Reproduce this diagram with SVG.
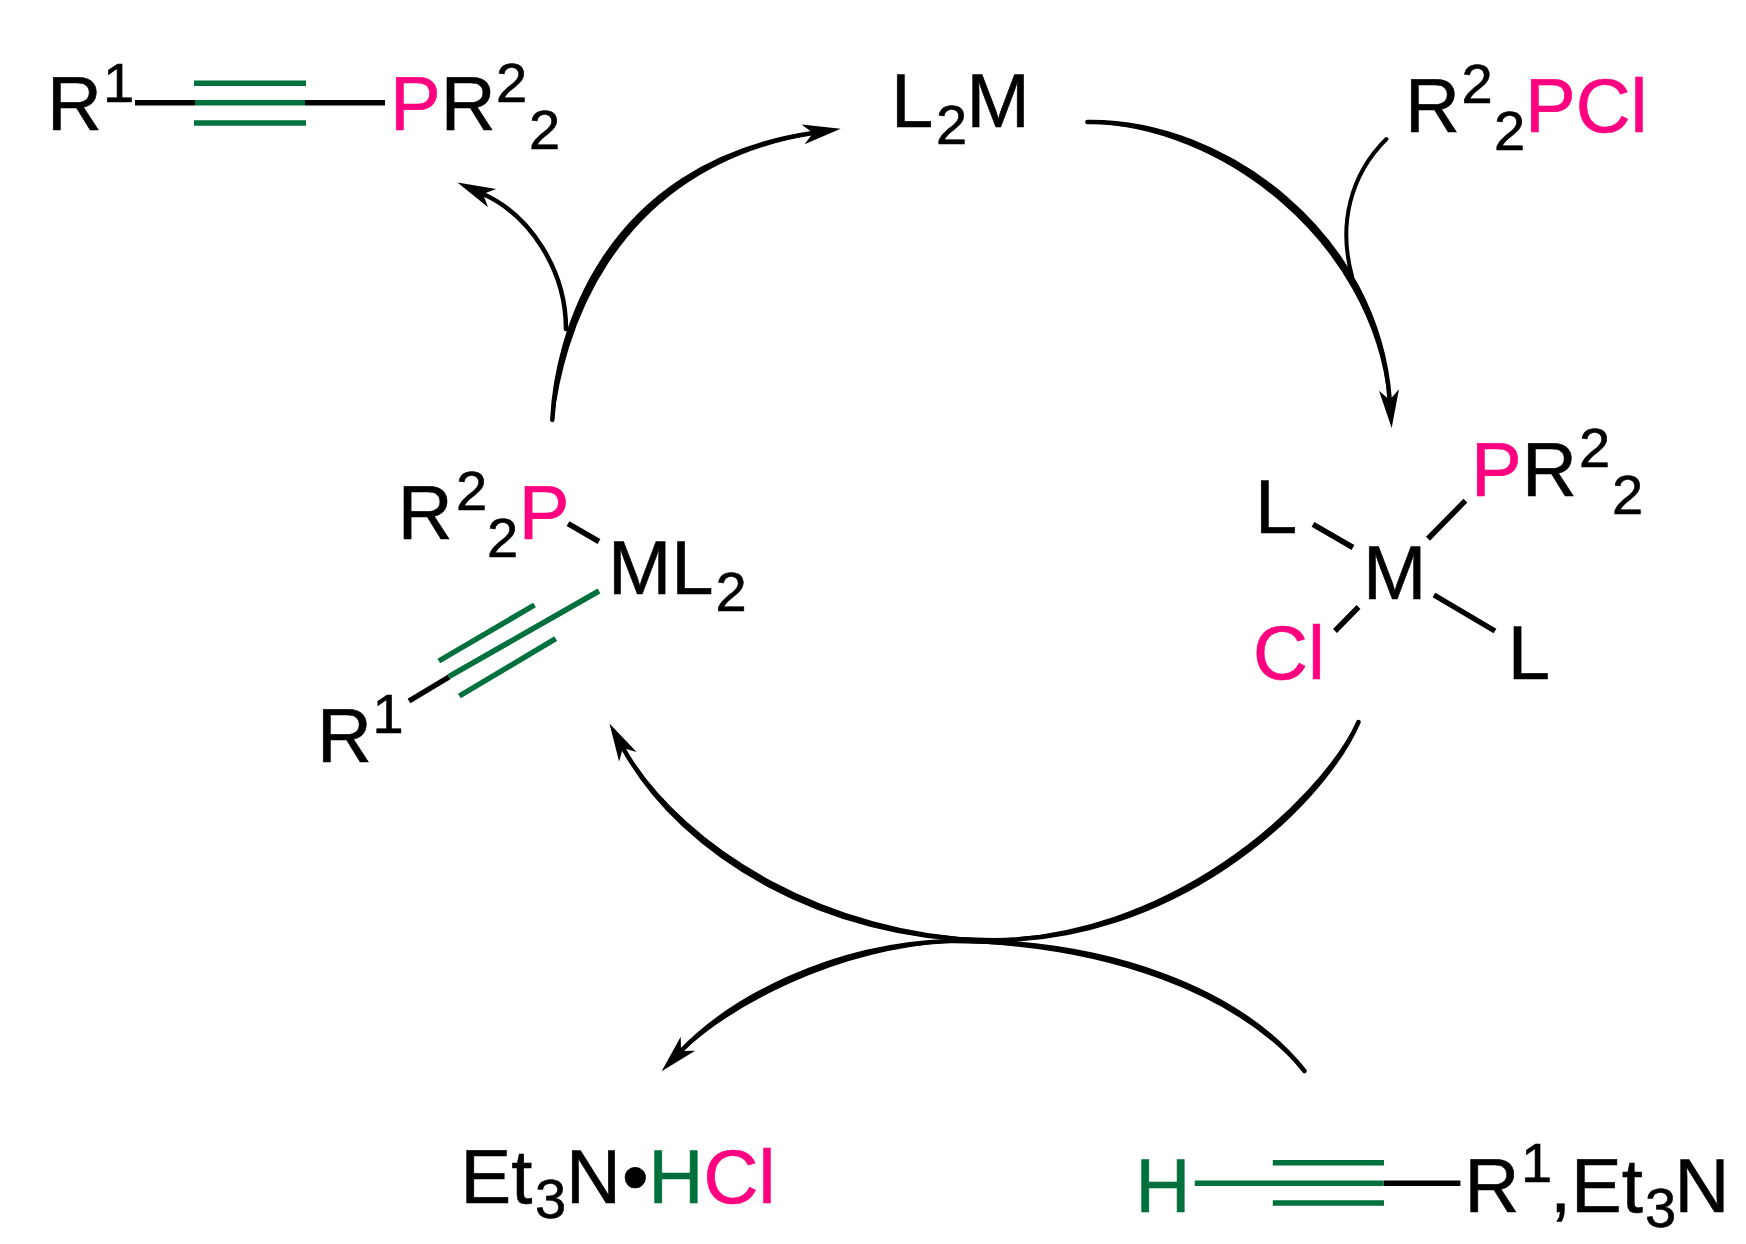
<svg xmlns="http://www.w3.org/2000/svg" width="1746" height="1244" viewBox="0 0 1746 1244">
<style>
text{font-family:"Liberation Sans",Arial,sans-serif;font-size:76px;fill:#000;stroke:#000;stroke-width:.6}
.s{font-size:56px}
.p{fill:#ff0080;stroke:#ff0080}
.g{fill:#00703c;stroke:#00703c}
.b{stroke:#000;stroke-width:5.5;fill:none}
.gb{stroke:#00703c;stroke-width:5.5;fill:none}
.k{stroke:#000;stroke-width:5.5;fill:none}
.c{stroke:#000;stroke-width:4.5;fill:none;stroke-linecap:round}
.l{fill:#000;stroke:#000;stroke-width:3;stroke-linejoin:round}
.h{marker-end:url(#ah)}
</style>
<defs>
<marker id="ah" markerUnits="userSpaceOnUse" markerWidth="44" markerHeight="24" refX="10" refY="12" orient="auto" viewBox="0 0 44 24" overflow="visible"><path d="M0,2L38,12L0,22L10,12Z" fill="#000"/></marker>
</defs>
<rect width="1746" height="1244" fill="#fff"/>
<g id="connectors">
<path class="c h" d="M1087.4,122C1225,120 1378,235 1389.7,400"/>
<path class="l" d="M1087.4,122C1225,120 1378,235 1389.7,400C1373,239 1221,124 1087.4,122Z"/>
<path class="c" style="stroke-width:4" d="M1386.4,139C1350,175 1338,225 1352,276"/>
<path class="c h" d="M1358.5,722C1320,810 1170,945 984,940C830,938 685,860 623,748"/>
<path class="l" d="M1358.5,722C1320,810 1170,945 984,940C1168,941 1316,807 1358.5,722Z"/>
<path class="l" d="M984,940C830,938 685,860 623,748C688,856 832,934 984,940Z"/>
<path class="c h" d="M1304.5,1071C1240,990 1110,940 950,941C830,945 730,1000 681,1051"/>
<path class="l" d="M1304.5,1071C1240,990 1110,940 950,941C1110,944 1237,993 1304.5,1071Z"/>
<path class="l" d="M950,941C830,945 730,1000 681,1051C732,1004 832,949 950,941Z"/>
<path class="c h" d="M552.3,420C556,340 600,165 813,133"/>
<path class="l" d="M552.3,420C556,340 600,165 813,133C604,170 561,343 552.3,420Z"/>
<path class="c h" d="M566,329C566,270 530,215 483,194"/>
</g>
<g id="alkynylphosphine">
<path class="k" d="M135,102.7H195M305,102.7H385"/>
<path class="gb" d="M194,83.3H306M195,102.7H305M194,123H306"/>
<text x="47" y="130">R</text><text class="s" x="103" y="102">1</text>
<text class="p" x="390" y="130">P</text><text x="440.7" y="130">R</text><text class="s" x="496" y="102">2</text><text class="s" x="529" y="148.8">2</text>
</g>
<g id="catalyst">
<text x="891" y="127">L</text><text class="s" x="936" y="143.6">2</text><text x="966.5" y="127">M</text>
</g>
<g id="chlorophosphine">
<text x="1405" y="131.7">R</text><text class="s" x="1461.5" y="103">2</text><text class="s" x="1494" y="149.6">2</text><text class="p" x="1525" y="131.7">PCl</text>
</g>
<g id="oxidative-adduct">
<path class="b" d="M1313,524.4L1353,547.5M1428,538.7L1465.4,500.6M1358.5,607L1335,631M1434,595L1495,631"/>
<text class="p" x="1471" y="496">P</text><text x="1522" y="496">R</text><text class="s" x="1579" y="467">2</text><text class="s" x="1612" y="513.7">2</text>
<text x="1255" y="532.8">L</text><text x="1363" y="599">M</text><text class="p" x="1253" y="678.7">Cl</text><text x="1507.7" y="679">L</text>
</g>
<g id="alkyne-complex">
<path class="b" d="M568,523.6L599,541.5"/>
<path class="k" d="M409,701L449,677"/>
<path class="gb" d="M599,591L448.8,676.7M534.5,605L438.8,661M555.7,638.7L459.4,696"/>
<text x="397.7" y="538.7">R</text><text class="s" x="456" y="509.8">2</text><text class="s" x="487" y="556.6">2</text><text class="p" x="518.7" y="538.7">P</text>
<text x="608" y="594">M</text><text x="671.3" y="594">L</text><text class="s" x="715.6" y="611">2</text>
<text x="317" y="761.6">R</text><text class="s" x="372.5" y="733">1</text>
</g>
<g id="salt">
<text x="460.6" y="1203">Et</text><text class="s" x="535" y="1218">3</text><text x="566" y="1203">N</text><text x="622" y="1203">•</text><text class="g" x="648.5" y="1203">H</text><text class="p" x="703.5" y="1203">Cl</text>
</g>
<g id="alkyne-base">
<path class="k" d="M1383.6,1183.3H1460.4"/>
<path class="gb" d="M1272.8,1162.7H1384M1194.8,1183.3H1383.6M1272.8,1203H1384"/>
<text class="g" x="1135.5" y="1211.5">H</text><text x="1464.5" y="1211.5">R</text><text class="s" x="1521" y="1182">1</text><text x="1550" y="1211.5">,Et</text><text class="s" x="1645" y="1227">3</text><text x="1674.6" y="1211.5">N</text>
</g>
</svg>
